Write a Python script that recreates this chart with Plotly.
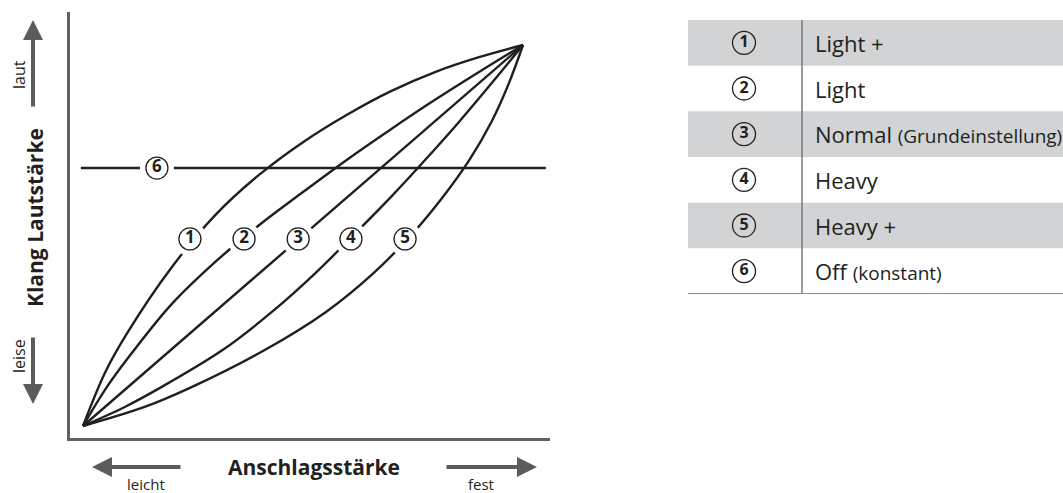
import plotly.graph_objects as go

W, H = 1063, 493

# ---- data (normalised: x = Anschlagsstärke 0..1, y = Klang Lautstärke 0..1) ----
curve1_x = [0, 0.05, 0.10, 0.20, 0.30, 0.40, 0.50, 0.60, 0.70, 0.80, 0.90, 1.0]
curve1_y = [0, 0.140, 0.243, 0.414, 0.553, 0.659, 0.745, 0.817, 0.879, 0.929, 0.968, 1.0]
curve2_x = [0, 0.05, 0.10, 0.20, 0.30, 0.40, 0.50, 0.60, 0.70, 0.80, 0.90, 1.0]
curve2_y = [0, 0.095, 0.175, 0.318, 0.430, 0.527, 0.614, 0.699, 0.779, 0.856, 0.929, 1.0]
curve3_x = [0, 1.0]
curve3_y = [0, 1.0]
curve4_x = [0, 0.095, 0.175, 0.318, 0.430, 0.527, 0.614, 0.699, 0.779, 0.856, 0.929, 1.0]
curve4_y = [0, 0.05, 0.10, 0.20, 0.30, 0.40, 0.50, 0.60, 0.70, 0.80, 0.90, 1.0]
curve5_x = [0, 0.140, 0.243, 0.414, 0.553, 0.659, 0.745, 0.817, 0.879, 0.929, 0.968, 1.0]
curve5_y = [0, 0.05, 0.10, 0.20, 0.30, 0.40, 0.50, 0.60, 0.70, 0.80, 0.90, 1.0]
off_x = [-0.005, 1.052]
off_level = 0.677

label_nums = ["1", "2", "3", "4", "5", "6"]
label_x = [0.243, 0.366, 0.489, 0.609, 0.732, 0.168]
label_y = [0.491, 0.491, 0.491, 0.491, 0.491, 0.677]

table_nums = ["1", "2", "3", "4", "5", "6"]
table_names = ["Light +", "Light", "Normal", "Heavy", "Heavy +", "Off"]
table_notes = ["", "", "(Grundeinstellung)", "", "", "(konstant)"]
table_shaded = [True, False, True, False, True, False]

# ---- style ----
FONT = "Open Sans"
INK = "#231f20"
GREY = "#5b5c5e"
AXIS = "#606163"
STRIPE = "#d1d3d4"


def px(x):
    return x / W


def py(y):
    return 1 - y / H


fig = go.Figure()

curves = [(curve1_x, curve1_y), (curve2_x, curve2_y), (curve3_x, curve3_y),
          (curve4_x, curve4_y), (curve5_x, curve5_y)]
for cx, cy in curves:
    fig.add_trace(go.Scatter(x=cx, y=cy, mode="lines",
                             line=dict(color=INK, width=2.4, shape="spline", smoothing=1.0),
                             hoverinfo="skip", showlegend=False))
fig.add_trace(go.Scatter(x=off_x, y=[off_level, off_level], mode="lines",
                         line=dict(color=INK, width=2.4), hoverinfo="skip", showlegend=False))

# white gaps around labels
fig.add_trace(go.Scatter(x=label_x, y=label_y, mode="markers",
                         marker=dict(size=34, color="white", line=dict(width=0)),
                         hoverinfo="skip", showlegend=False))
# circled numbers
fig.add_trace(go.Scatter(x=label_x, y=label_y, mode="markers+text",
                         text=label_nums, textposition="middle center",
                         textfont=dict(family=FONT, size=17, color=INK, weight="bold"),
                         marker=dict(size=22, color="white", line=dict(width=1.3, color=INK)),
                         hoverinfo="skip", showlegend=False))

# ---- table on second axes ----
rows = list(range(len(table_nums)))
fig.add_trace(go.Scatter(x=[56] * len(rows), y=[r + 0.5 for r in rows], mode="markers+text",
                         text=table_nums, textposition="middle center",
                         textfont=dict(family=FONT, size=16, color=INK, weight="bold"),
                         marker=dict(size=23, color="rgba(0,0,0,0)", line=dict(width=1.3, color=INK)),
                         xaxis="x2", yaxis="y2", hoverinfo="skip", showlegend=False))

shapes = []
for r, shaded in zip(rows, table_shaded):
    if shaded:
        shapes.append(dict(type="rect", xref="x2", yref="y2", x0=0, x1=375, y0=r, y1=r + 1,
                           fillcolor=STRIPE, line=dict(width=0), layer="below"))
shapes.append(dict(type="line", xref="x2", yref="y2", x0=114, x1=114, y0=0, y1=len(rows),
                   line=dict(color="#77787a", width=1.5)))
shapes.append(dict(type="line", xref="x2", yref="y2", x0=0, x1=375, y0=len(rows), y1=len(rows),
                   line=dict(color="#8a8b8d", width=2)))

annotations = []
for r, name, note in zip(rows, table_names, table_notes):
    txt = name if not note else f"{name} <span style='font-size:19px'>{note}</span>"
    annotations.append(dict(x=125, y=r + 0.5, xref="x2", yref="y2", text=txt, showarrow=False,
                            xanchor="left", yanchor="middle",
                            font=dict(family=FONT, size=22, color=INK)))


# ---- axis titles and arrows ----
def arrow(tip, tail):
    return dict(x=px(tip[0]), y=py(tip[1]), xref="paper", yref="paper",
                ax=tail[0] - tip[0], ay=tail[1] - tip[1], text="", showarrow=True,
                arrowhead=2, arrowsize=1, arrowwidth=4, arrowcolor=GREY, standoff=0)


def label(x, y, text, size, angle=0):
    return dict(x=px(x), y=py(y), xref="paper", yref="paper", text=text, textangle=angle,
                xanchor="center", yanchor="middle", showarrow=False,
                font=dict(family=FONT, size=size, color=INK))


annotations += [
    arrow((33, 20), (33, 108)),
    arrow((33, 404), (33, 336)),
    arrow((92, 467), (182, 467)),
    arrow((537, 467), (445, 467)),
    label(19, 75, "laut", 16, -90),
    label(19, 356, "leise", 16, -90),
    label(35, 218, "<b>Klang Lautstärke</b>", 21, -90),
    label(314, 467, "<b>Anschlagsstärke</b>", 21),
    label(146, 484, "leicht", 15),
    label(481, 484, "fest", 15),
]

hidden = dict(showgrid=False, zeroline=False, showticklabels=False, ticks="")
fig.update_layout(
    width=W, height=H, autosize=False,
    margin=dict(l=0, r=0, t=0, b=0),
    paper_bgcolor="white", plot_bgcolor="white",
    showlegend=False,
    xaxis=dict(domain=[px(70), px(550)], range=[-13 / 440, 467 / 440],
               showline=True, linecolor=AXIS, linewidth=3, **hidden),
    yaxis=dict(domain=[py(438), py(12)], range=[(426 - 438) / 381, (426 - 12) / 381],
               showline=True, linecolor=AXIS, linewidth=3, **hidden),
    xaxis2=dict(domain=[px(688), 1], range=[0, 375], anchor="y2", **hidden),
    yaxis2=dict(domain=[py(294), py(20)], range=[len(rows), 0], anchor="x2", **hidden),
    shapes=shapes,
    annotations=annotations,
)

fig.write_html("out.html", config={"displayModeBar": False, "staticPlot": True},
               post_script="document.body.style.margin='0px';")
